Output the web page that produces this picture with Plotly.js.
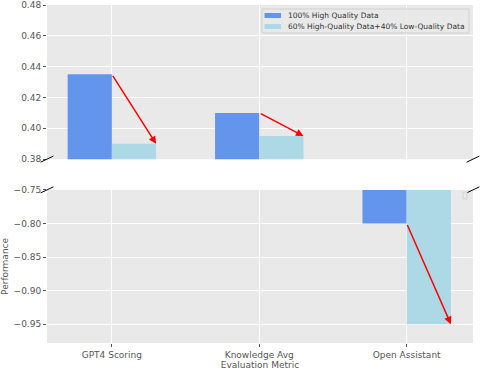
<!DOCTYPE html>
<html>
<head>
<meta charset="utf-8">
<script src="https://cdn.plot.ly/plotly-3.0.1.min.js"></script>
<style>
  html, body { margin: 0; padding: 0; background: #fff; }
  #chart { width: 482px; height: 370px; }
</style>
</head>
<body>
<div id="chart"></div>
<script>
// data
const metrics = ["GPT4 Scoring", "Knowledge Avg", "Open Assistant"];
const highQuality = [0.435, 0.41, -0.80];
const mixedQuality = [0.39, 0.395, -0.95];
const seriesNames = ["100% High Quality Data", "60% High-Quality Data+40% Low-Quality Data"];
const topTicks = [0.38, 0.40, 0.42, 0.44, 0.46, 0.48];
const bottomTicks = [-0.95, -0.90, -0.85, -0.80, -0.75];

const colors = ["#6495ED", "#ADD8E6"];
const font = { family: "DejaVu Sans", size: 9, color: "#555555" };

const traces = [];
// top panel (x / y) and bottom panel (x2 / y2) get the same bars
[["x", "y"], ["x2", "y2"]].forEach(([xa, ya]) => {
  [highQuality, mixedQuality].forEach((vals, k) => {
    traces.push({
      type: "bar", x: metrics, y: vals, name: seriesNames[k],
      marker: { color: colors[k] }, xaxis: xa, yaxis: ya, showlegend: false,
      offsetgroup: "g" + k, hoverinfo: "skip"
    });
  });
});

// red arrows: top-right corner of the first bar to top-right of the second
const annotations = metrics.map((m, i) => {
  const top = highQuality[i] > 0;
  return {
    xref: top ? "x" : "x2", yref: top ? "y" : "y2",
    axref: top ? "x" : "x2", ayref: top ? "y" : "y2",
    x: i + 0.3, y: mixedQuality[i],
    ax: i, ay: highQuality[i],
    showarrow: true, arrowcolor: "red", arrowwidth: 1.5,
    arrowhead: 2, arrowsize: 1, text: ""
  };
});

// diagonal break marks
const brk = (x, y) => ({
  type: "line", xref: "paper", yref: "paper",
  x0: x - 0.015, x1: x + 0.015, y0: y - 0.009, y1: y + 0.009,
  line: { color: "black", width: 1 }
});
const topBottom = 0.544, bottomTop = 0.453;
const shapes = [brk(0, topBottom), brk(1, topBottom), brk(0, bottomTop), brk(1, bottomTop)];

// compact legend drawn by hand (plotly's rows are too tall)
shapes.push({
  type: "rect", xref: "paper", yref: "paper",
  x0: 0.5047, x1: 0.9906, y0: 0.9172, y1: 0.9882,
  fillcolor: "rgba(233,233,233,0.85)", line: { color: "#d0d0d0", width: 1 }
});
const rowY = [[0.9615, 0.9763, 0.9689], [0.9290, 0.9438, 0.9364]];
seriesNames.forEach((name, k) => {
  shapes.push({
    type: "rect", xref: "paper", yref: "paper",
    x0: 0.5106, x1: 0.5493, y0: rowY[k][0], y1: rowY[k][1],
    fillcolor: colors[k], line: { width: 0 }
  });
  annotations.push({
    xref: "paper", yref: "paper", x: 0.561, y: rowY[k][2],
    xanchor: "left", yanchor: "middle", showarrow: false, text: name,
    font: { family: "DejaVu Sans", size: 7.5, color: "#333333" }
  });
});
// empty legend frame left in the lower panel
shapes.push({
  type: "rect", xref: "paper", yref: "paper",
  x0: 0.9765, x1: 0.986, y0: 0.426, y1: 0.4467,
  fillcolor: "rgba(233,233,233,0.8)", line: { color: "#d4d4d4", width: 1 }
});

const axisBase = {
  showgrid: true, gridcolor: "#ffffff", gridwidth: 1,
  zeroline: false, showline: false, tickfont: font,
  ticks: "outside", ticklen: 3, tickcolor: "#555555"
};

const layout = {
  width: 482, height: 370,
  margin: { l: 47, r: 9, t: 5, b: 27 },
  paper_bgcolor: "#ffffff", plot_bgcolor: "#E9E9E9",
  font: font,
  showlegend: false,
  barmode: "group", bargap: 0.4, bargroupgap: 0,
  xaxis: Object.assign({}, axisBase, {
    domain: [0, 1], anchor: "y", range: [-0.44, 2.45],
    showticklabels: false, ticks: ""
  }),
  yaxis: Object.assign({}, axisBase, {
    domain: [topBottom, 1], anchor: "x", range: [0.38, 0.48],
    tickvals: topTicks, tickformat: ".2f"
  }),
  xaxis2: Object.assign({}, axisBase, {
    domain: [0, 1], anchor: "y2", matches: "x", range: [-0.44, 2.45],
    title: { text: "Evaluation Metric", font: font, standoff: 1 }
  }),
  yaxis2: Object.assign({}, axisBase, {
    domain: [0, bottomTop], anchor: "x2", range: [-0.978, -0.75],
    tickvals: bottomTicks, tickformat: ".2f",
    title: { text: "Performance", font: font, standoff: 6 }
  }),
  annotations: annotations,
  shapes: shapes
};

Plotly.newPlot("chart", traces, layout, { displayModeBar: false, staticPlot: true });
</script>
</body>
</html>
